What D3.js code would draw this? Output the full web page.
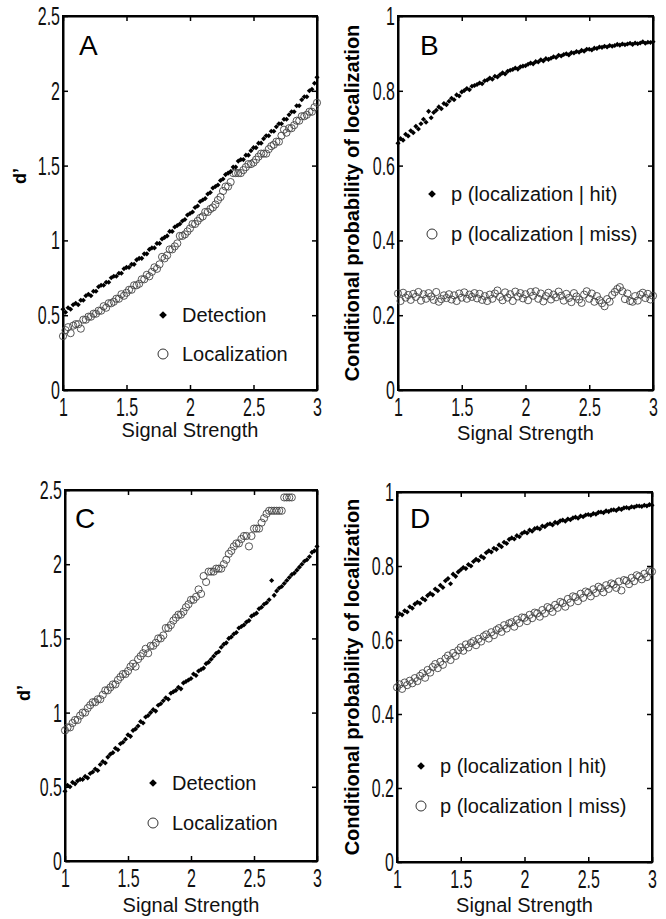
<!DOCTYPE html>
<html><head><meta charset="utf-8">
<script src="https://cdn.jsdelivr.net/npm/d3@7"></script>
<style>
html,body{margin:0;padding:0;background:#fff;}
svg{display:block;}
</style>
</head><body>
<svg id="chart" width="666" height="919"></svg>
<script>
// ---------------- DATA ----------------
const signal = [1,1.02,1.04,1.06,1.08,1.1,1.12,1.14,1.16,1.18,
1.2,1.22,1.24,1.26,1.28,1.3,1.32,1.34,1.36,1.38,
1.4,1.42,1.44,1.46,1.48,1.5,1.52,1.54,1.56,1.58,
1.6,1.62,1.64,1.66,1.68,1.7,1.72,1.74,1.76,1.78,
1.8,1.82,1.84,1.86,1.88,1.9,1.92,1.94,1.96,1.98,
2,2.02,2.04,2.06,2.08,2.1,2.12,2.14,2.16,2.18,
2.2,2.22,2.24,2.26,2.28,2.3,2.32,2.34,2.36,2.38,
2.4,2.42,2.44,2.46,2.48,2.5,2.52,2.54,2.56,2.58,
2.6,2.62,2.64,2.66,2.68,2.7,2.72,2.74,2.76,2.78,
2.8,2.82,2.84,2.86,2.88,2.9,2.92,2.94,2.96,2.98,
3];

const aDetection = [0.54,0.52,0.55,0.54,0.57,0.58,0.57,0.60,0.60,0.63,
0.64,0.63,0.66,0.66,0.69,0.70,0.70,0.72,0.72,0.75,
0.76,0.76,0.78,0.78,0.81,0.82,0.82,0.84,0.84,0.87,
0.88,0.88,0.91,0.91,0.94,0.95,0.95,0.98,0.98,1.01,
1.02,1.03,1.06,1.06,1.09,1.10,1.11,1.13,1.14,1.17,
1.18,1.19,1.22,1.23,1.26,1.27,1.28,1.31,1.32,1.35,
1.36,1.37,1.40,1.41,1.44,1.45,1.46,1.49,1.49,1.53,
1.54,1.54,1.57,1.57,1.60,1.62,1.62,1.65,1.65,1.68,
1.70,1.70,1.73,1.73,1.76,1.78,1.78,1.81,1.81,1.84,
1.86,1.86,1.90,1.90,1.94,1.96,1.96,2.00,2.01,2.05,
2.09];

const aLocalization = [0.36,0.40,0.42,0.38,0.43,0.44,0.44,0.41,0.47,0.47,
0.49,0.49,0.51,0.51,0.53,0.53,0.56,0.55,0.58,0.58,
0.59,0.61,0.61,0.64,0.63,0.65,0.67,0.67,0.70,0.70,
0.71,0.74,0.74,0.77,0.76,0.79,0.82,0.81,0.84,0.89,
0.88,0.90,0.94,0.94,0.96,0.98,1.03,1.03,1.04,1.06,
1.08,1.11,1.11,1.13,1.15,1.16,1.19,1.19,1.21,1.22,
1.24,1.27,1.29,1.33,1.36,1.36,1.39,1.45,1.45,1.45,
1.45,1.47,1.49,1.51,1.51,1.52,1.54,1.56,1.58,1.58,
1.58,1.61,1.63,1.64,1.66,1.66,1.70,1.74,1.72,1.75,
1.75,1.77,1.80,1.80,1.83,1.83,1.84,1.86,1.86,1.89,
1.92];

const bHit = [0.660,0.672,0.668,0.684,0.679,0.693,0.688,0.705,0.698,0.712,
0.724,0.716,0.745,0.728,0.742,0.748,0.757,0.752,0.766,0.763,
0.772,0.780,0.776,0.789,0.786,0.797,0.801,0.806,0.803,0.812,
0.814,0.817,0.821,0.819,0.827,0.829,0.834,0.831,0.839,0.837,
0.843,0.848,0.845,0.852,0.855,0.857,0.861,0.858,0.864,0.866,
0.867,0.871,0.874,0.872,0.878,0.877,0.883,0.880,0.886,0.884,
0.887,0.891,0.889,0.895,0.893,0.897,0.899,0.896,0.902,0.901,
0.905,0.903,0.908,0.906,0.911,0.911,0.909,0.914,0.913,0.917,
0.916,0.919,0.917,0.921,0.919,0.921,0.924,0.922,0.925,0.923,
0.925,0.927,0.924,0.928,0.926,0.928,0.931,0.927,0.930,0.929,
0.931];

const bMiss = [0.258,0.238,0.260,0.247,0.254,0.241,0.257,0.249,0.262,0.239,
0.256,0.244,0.259,0.250,0.241,0.262,0.236,0.243,0.253,0.246,
0.256,0.242,0.253,0.238,0.258,0.247,0.261,0.244,0.255,0.249,
0.259,0.245,0.257,0.241,0.251,0.238,0.255,0.244,0.258,0.266,
0.249,0.240,0.261,0.247,0.256,0.238,0.263,0.250,0.259,0.245,
0.256,0.240,0.262,0.252,0.264,0.244,0.258,0.237,0.251,0.260,
0.242,0.255,0.248,0.263,0.252,0.239,0.257,0.246,0.235,0.259,
0.250,0.242,0.233,0.255,0.264,0.244,0.258,0.236,0.251,0.240,
0.232,0.224,0.243,0.236,0.254,0.262,0.270,0.275,0.264,0.243,
0.258,0.238,0.236,0.251,0.239,0.255,0.260,0.246,0.257,0.242,
0.252];

const cDetection = [0.47,0.51,0.50,0.53,0.52,0.54,0.55,0.55,0.57,0.56,
0.59,0.60,0.62,0.61,0.65,0.67,0.66,0.70,0.72,0.73,
0.76,0.75,0.79,0.80,0.82,0.85,0.84,0.88,0.89,0.91,
0.94,0.93,0.97,0.98,1.00,1.02,1.01,1.05,1.06,1.08,
1.10,1.09,1.13,1.14,1.15,1.17,1.16,1.20,1.21,1.22,
1.23,1.26,1.25,1.28,1.29,1.30,1.33,1.34,1.36,1.38,
1.40,1.41,1.44,1.46,1.47,1.50,1.51,1.53,1.54,1.57,
1.58,1.59,1.61,1.62,1.65,1.66,1.67,1.70,1.71,1.73,
1.74,1.76,1.89,1.79,1.82,1.84,1.85,1.87,1.89,1.91,
1.93,1.94,1.96,1.98,2.00,2.02,2.03,2.05,2.08,2.09,
2.12];

// localization d' in panel C is only defined up to signal 2.80
const cLocalization = [0.88,0.90,0.90,0.93,0.95,0.95,0.98,1.00,1.00,1.03,
1.05,1.07,1.07,1.09,1.09,1.12,1.15,1.15,1.17,1.19,
1.19,1.22,1.24,1.26,1.26,1.28,1.31,1.33,1.31,1.36,
1.38,1.40,1.43,1.40,1.45,1.45,1.47,1.50,1.50,1.52,
1.57,1.57,1.59,1.62,1.64,1.66,1.66,1.68,1.71,1.73,
1.76,1.76,1.78,1.83,1.80,1.92,1.88,1.95,1.95,1.95,
1.97,1.97,1.97,2.00,2.03,2.07,2.09,2.12,2.14,2.14,
2.17,2.19,2.19,2.12,2.19,2.24,2.24,2.24,2.28,2.31,
2.34,2.36,2.36,2.36,2.36,2.36,2.36,2.45,2.45,2.45,
2.45];

const dHit = [0.662,0.671,0.668,0.679,0.676,0.690,0.686,0.697,0.702,0.699,
0.712,0.708,0.720,0.726,0.722,0.738,0.733,0.748,0.742,0.760,
0.766,0.752,0.778,0.772,0.784,0.790,0.796,0.793,0.804,0.800,
0.812,0.818,0.815,0.826,0.822,0.836,0.841,0.838,0.848,0.845,
0.857,0.852,0.864,0.861,0.872,0.876,0.873,0.882,0.879,0.888,
0.892,0.889,0.897,0.894,0.901,0.903,0.900,0.908,0.906,0.912,
0.914,0.911,0.918,0.916,0.922,0.924,0.921,0.927,0.925,0.930,
0.932,0.929,0.935,0.933,0.938,0.939,0.937,0.942,0.940,0.945,
0.946,0.944,0.949,0.947,0.951,0.952,0.950,0.955,0.953,0.957,
0.958,0.956,0.960,0.959,0.962,0.962,0.961,0.964,0.962,0.966,
0.964];

const dMiss = [0.472,0.480,0.468,0.485,0.478,0.490,0.483,0.497,0.489,0.503,
0.510,0.498,0.519,0.512,0.527,0.535,0.524,0.541,0.533,0.550,
0.558,0.546,0.565,0.557,0.572,0.580,0.571,0.588,0.580,0.592,
0.597,0.586,0.603,0.596,0.610,0.615,0.604,0.621,0.613,0.627,
0.632,0.622,0.640,0.631,0.645,0.648,0.636,0.655,0.646,0.661,
0.660,0.651,0.668,0.659,0.674,0.672,0.663,0.681,0.672,0.689,
0.686,0.676,0.695,0.687,0.703,0.700,0.690,0.711,0.701,0.718,
0.716,0.705,0.725,0.714,0.731,0.728,0.718,0.737,0.727,0.744,
0.740,0.729,0.748,0.738,0.753,0.750,0.741,0.758,0.734,0.762,
0.760,0.751,0.768,0.759,0.775,0.772,0.764,0.779,0.770,0.786,
0.785];

const xTicks = [1, 1.5, 2, 2.5, 3];
const xTickLabels = ["1", "1.5", "2", "2.5", "3"];
const dTicks = [0, 0.5, 1, 1.5, 2, 2.5];
const dTickLabels = ["0", "0.5", "1", "1.5", "2", "2.5"];
const pTicks = [0, 0.2, 0.4, 0.6, 0.8, 1];
const pTickLabels = ["0", "0.2", "0.4", "0.6", "0.8", "1"];
const panelLetters = ["A", "B", "C", "D"];
const legendDetLoc = ["Detection", "Localization"];
const legendHitMiss = ["p (localization | hit)", "p (localization | miss)"];
const xTitle = "Signal Strength";
const yTitleDprime = "d\u2019";
const yTitleProb = "Conditional probability of localization";

// ---------------- LAYOUT ----------------
const panels = [
  {letter: panelLetters[0], l: 63, t: 16, r: 317, b: 390, yDomain: [0, 2.5], yTicks: dTicks, yLabels: dTickLabels,
   filled: aDetection, open: aLocalization, legend: legendDetLoc, yTitle: yTitleDprime,
   letterX: 79, letterY: 55, legX: 163, legY1: 315, legY2: 354, xTitleY: 437,
   yTitleX: 26, yTitleY: 176, yTitleSize: 18},
  {letter: panelLetters[1], l: 398, t: 16, r: 653, b: 390, yDomain: [0, 1], yTicks: pTicks, yLabels: pTickLabels,
   filled: bHit, open: bMiss, legend: legendHitMiss, yTitle: yTitleProb,
   letterX: 420, letterY: 55, legX: 432, legY1: 194, legY2: 234, xTitleY: 440,
   yTitleX: 359, yTitleY: 203, yTitleSize: 20},
  {letter: panelLetters[2], l: 65, t: 490, r: 317, b: 861, yDomain: [0, 2.5], yTicks: dTicks, yLabels: dTickLabels,
   filled: cDetection, open: cLocalization, legend: legendDetLoc, yTitle: yTitleDprime,
   letterX: 75, letterY: 528, legX: 153, legY1: 783, legY2: 823, xTitleY: 912,
   yTitleX: 30, yTitleY: 693, yTitleSize: 18},
  {letter: panelLetters[3], l: 397, t: 492, r: 652, b: 862, yDomain: [0, 1], yTicks: pTicks, yLabels: pTickLabels,
   filled: dHit, open: dMiss, legend: legendHitMiss, yTitle: yTitleProb,
   letterX: 410, letterY: 528, legX: 421, legY1: 766, legY2: 806, xTitleY: 912,
   yTitleX: 359, yTitleY: 677, yTitleSize: 20}
];

const svg = d3.select("#chart");
const FONT = "'Liberation Sans', Arial, Helvetica, sans-serif";
const TICKSCALE = 0.64;
const diamond = d3.symbol().type(d3.symbolSquare);

function styleAxis(g, withLabels) {
  g.select(".domain").attr("stroke", "#000").attr("stroke-width", 2);
  g.selectAll(".tick line").attr("stroke", "#000").attr("stroke-width", 1.5);
  if (!withLabels) g.selectAll(".tick text").remove();
  else g.selectAll(".tick text")
        .attr("fill", "#111")
        .style("font-family", FONT)
        .style("font-size", "25px");
}

function drawPanel(p) {
  const x = d3.scaleLinear().domain([1, 3]).range([p.l, p.r]);
  const y = d3.scaleLinear().domain(p.yDomain).range([p.b, p.t]);
  const g = svg.append("g");
  const fx = d => xTickLabels[xTicks.indexOf(d)];
  const fy = d => p.yLabels[p.yTicks.indexOf(d)];

  // bottom axis
  const gb = g.append("g").attr("transform", `translate(0,${p.b})`)
    .call(d3.axisBottom(x).tickValues(xTicks).tickFormat(fx).tickSize(-5).tickSizeOuter(0).tickPadding(8));
  styleAxis(gb, true);
  gb.selectAll(".tick text").attr("transform", `scale(${TICKSCALE},1)`);
  // top axis
  const gt = g.append("g").attr("transform", `translate(0,${p.t})`)
    .call(d3.axisTop(x).tickValues(xTicks).tickSize(-5).tickSizeOuter(0));
  styleAxis(gt, false);
  // left axis
  const gl = g.append("g").attr("transform", `translate(${p.l},0)`)
    .call(d3.axisLeft(y).tickValues(p.yTicks).tickFormat(fy).tickSize(-5).tickSizeOuter(0));
  styleAxis(gl, true);
  gl.selectAll(".tick text").attr("x", -3 / TICKSCALE).attr("dy", "0.34em")
    .attr("transform", `scale(${TICKSCALE},1)`);
  // right axis
  const gr = g.append("g").attr("transform", `translate(${p.r},0)`)
    .call(d3.axisRight(y).tickValues(p.yTicks).tickSize(-5).tickSizeOuter(0));
  styleAxis(gr, false);

  // frame
  g.append("rect").attr("x", p.l).attr("y", p.t).attr("width", p.r - p.l).attr("height", p.b - p.t)
    .attr("fill", "none").attr("stroke", "#000").attr("stroke-width", 2);

  // open circles
  const openData = p.open.map((v, i) => ({x: signal[i], y: v}));
  g.append("g").selectAll("circle").data(openData).join("circle")
    .attr("cx", d => x(d.x)).attr("cy", d => y(d.y)).attr("r", 3.6)
    .attr("fill", "none").attr("stroke", "#444").attr("stroke-width", 0.9);

  // filled diamonds
  const filledData = p.filled.map((v, i) => ({x: signal[i], y: v}));
  g.append("g").selectAll("path").data(filledData).join("path")
    .attr("d", diamond.size(13))
    .attr("transform", d => `translate(${x(d.x)},${y(d.y)}) rotate(45)`)
    .attr("fill", "#000");

  // panel letter
  g.append("text").attr("x", p.letterX).attr("y", p.letterY).text(p.letter)
    .style("font-family", FONT).style("font-size", "28px").attr("fill", "#000");

  // legend
  g.append("path").attr("d", diamond.size(30))
    .attr("transform", `translate(${p.legX},${p.legY1}) rotate(45)`).attr("fill", "#000");
  g.append("circle").attr("cx", p.legX).attr("cy", p.legY2).attr("r", 5)
    .attr("fill", "none").attr("stroke", "#333").attr("stroke-width", 1);
  g.append("text").attr("x", p.legX + 19).attr("y", p.legY1 + 7).text(p.legend[0])
    .style("font-family", FONT).style("font-size", "20px").attr("fill", "#111");
  g.append("text").attr("x", p.legX + 19).attr("y", p.legY2 + 7).text(p.legend[1])
    .style("font-family", FONT).style("font-size", "20px").attr("fill", "#111");

  // x title
  g.append("text").attr("x", (p.l + p.r) / 2).attr("y", p.xTitleY).attr("text-anchor", "middle")
    .text(xTitle).style("font-family", FONT).style("font-size", "20px").attr("fill", "#111");

  // y title
  g.append("text").attr("transform", `translate(${p.yTitleX},${p.yTitleY}) rotate(-90)`)
    .attr("text-anchor", "middle").text(p.yTitle)
    .style("font-family", FONT).style("font-size", p.yTitleSize + "px").style("font-weight", "bold")
    .attr("fill", "#000");
}

panels.forEach(drawPanel);
</script>
</body></html>
